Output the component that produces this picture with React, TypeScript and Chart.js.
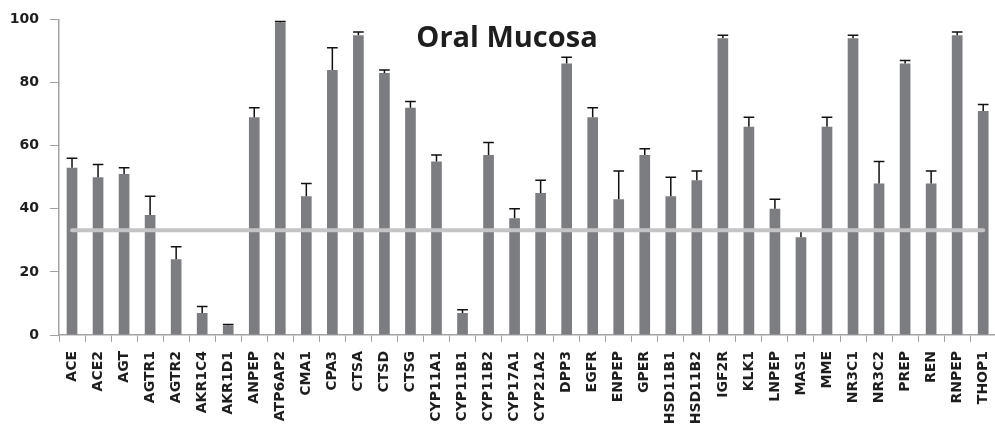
import React, { useEffect, useRef } from "react";
import { Chart, registerables } from "chart.js";

Chart.register(...registerables);

const labels = [
  "ACE", "ACE2", "AGT", "AGTR1", "AGTR2", "AKR1C4", "AKR1D1", "ANPEP", "ATP6AP2",
  "CMA1", "CPA3", "CTSA", "CTSD", "CTSG", "CYP11A1", "CYP11B1", "CYP11B2", "CYP17A1",
  "CYP21A2", "DPP3", "EGFR", "ENPEP", "GPER", "HSD11B1", "HSD11B2", "IGF2R", "KLK1",
  "LNPEP", "MAS1", "MME", "NR3C1", "NR3C2", "PREP", "REN", "RNPEP", "THOP1",
];

const values = [
  53, 50, 51, 38, 24, 7, 3, 69, 99,
  44, 84, 95, 83, 72, 55, 7, 57, 37,
  45, 86, 69, 43, 57, 44, 49, 94, 66,
  40, 31, 66, 94, 48, 86, 48, 95, 71,
];

const errors = [
  3, 4, 2, 6, 4, 2, 0.3, 3, 0.3,
  4, 7, 1, 1, 2, 2, 1, 4, 3,
  4, 2, 3, 9, 2, 6, 3, 1, 3,
  3, 2, 3, 1, 7, 1, 4, 1, 2,
];

const thresholdValue = 33.2;
const titleText = "Oral Mucosa";
const yMin = 0;
const yMax = 100;
const yStep = 20;

const BAR_COLOR = "#7c7d81";
const AXIS_COLOR = "#a3a3a3";
const TEXT_COLOR = "#1e1e1e";
const TICK_FONT = { family: "'DejaVu Sans'", size: 14, weight: "bold" as const };

const errorBarPlugin = {
  id: "errorBars",
  afterDatasetDraw(chart: any, args: any) {
    if (args.index !== 0) return;
    const meta = chart.getDatasetMeta(0);
    const y = chart.scales.y;
    const ctx = chart.ctx;
    ctx.save();
    ctx.strokeStyle = "#111111";
    ctx.lineWidth = 1.5;
    meta.data.forEach((bar: any, i: number) => {
      const top = y.getPixelForValue(values[i] + errors[i]);
      const half = bar.width / 2;
      ctx.beginPath();
      ctx.moveTo(bar.x, bar.y);
      ctx.lineTo(bar.x, top);
      ctx.moveTo(bar.x - half, top);
      ctx.lineTo(bar.x + half, top);
      ctx.stroke();
    });
    ctx.restore();
  },
};

const titlePlugin = {
  id: "innerTitle",
  afterDraw(chart: any) {
    const { ctx, chartArea } = chart;
    ctx.save();
    ctx.font = "bold 29px 'Open Sans'";
    ctx.fillStyle = TEXT_COLOR;
    ctx.textAlign = "center";
    ctx.textBaseline = "alphabetic";
    const x = chartArea.left + (chartArea.right - chartArea.left) * 0.478;
    ctx.fillText(titleText, x, chartArea.top + 28);
    ctx.restore();
  },
};

export default function App() {
  const canvasRef = useRef<HTMLCanvasElement | null>(null);

  useEffect(() => {
    if (!canvasRef.current) return;
    const chart = new Chart(canvasRef.current, {
      type: "bar",
      data: {
        labels,
        datasets: [
          {
            type: "bar",
            data: values,
            backgroundColor: BAR_COLOR,
            categoryPercentage: 1,
            barPercentage: 0.41,
            order: 1,
          } as any,
          {
            type: "line",
            data: labels.map(() => thresholdValue),
            borderColor: "#c4c4c6",
            borderWidth: 4,
            pointRadius: 0,
            borderCapStyle: "round",
            order: 0,
          } as any,
        ],
      },
      options: {
        responsive: false,
        animation: false,
        layout: { padding: { top: 16, left: 0, right: 0, bottom: 0 } },
        plugins: {
          legend: { display: false },
          title: { display: false },
          tooltip: { enabled: false },
        },
        scales: {
          x: {
            offset: true,
            grid: {
              display: true,
              offset: true,
              drawOnChartArea: false,
              drawTicks: true,
              tickLength: 7,
              color: AXIS_COLOR,
            },
            border: { display: true, color: AXIS_COLOR, width: 1.5 },
            ticks: {
              autoSkip: false,
              minRotation: 90,
              maxRotation: 90,
              padding: 9,
              color: TEXT_COLOR,
              font: TICK_FONT,
            },
            afterFit: (scale: any) => {
              scale.height = 94;
            },
          },
          y: {
            min: yMin,
            max: yMax,
            grid: {
              display: true,
              drawOnChartArea: false,
              drawTicks: true,
              tickLength: 9,
              color: AXIS_COLOR,
            },
            border: { display: true, color: AXIS_COLOR, width: 1.5 },
            ticks: {
              stepSize: yStep,
              padding: 11,
              color: TEXT_COLOR,
              font: TICK_FONT,
            },
            afterFit: (scale: any) => {
              scale.width = 59;
            },
          },
        },
      } as any,
      plugins: [errorBarPlugin, titlePlugin],
    });
    return () => chart.destroy();
  }, []);

  return (
    <div
      style={{
        position: "fixed",
        left: 0,
        top: 0,
        width: 995,
        height: 429,
        overflow: "hidden",
        background: "#ffffff",
      }}
    >
      <canvas ref={canvasRef} width={1009} height={429} style={{ display: "block" }} />
    </div>
  );
}
